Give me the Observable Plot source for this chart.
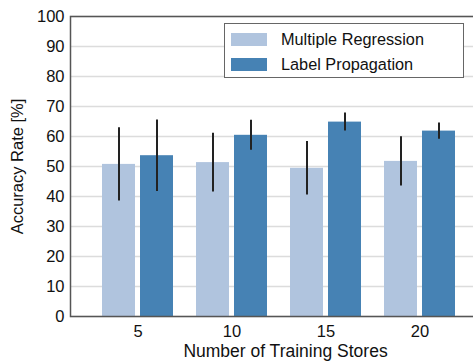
<!DOCTYPE html>
<html><head><meta charset="utf-8">
<script src="https://cdn.jsdelivr.net/npm/d3@7"></script>
<script src="https://cdn.jsdelivr.net/npm/@observablehq/plot@0.6"></script>
<style>
body{margin:0;background:#fff;font-family:"Liberation Sans",Arial,sans-serif;}
#wrap{position:relative;width:473px;height:361px;overflow:hidden;}
.legend{position:absolute;left:224px;top:23px;width:240px;height:55px;border:1px solid #666;background:#fff;box-sizing:border-box;font-size:16.3px;color:#111;}
.row{position:absolute;left:6px;height:13px;}
.sw{position:absolute;left:0;top:0;width:36px;height:13px;}
.lab{position:absolute;left:50px;top:-3px;white-space:nowrap;line-height:18px;}
</style></head>
<body><div id="wrap"></div>
<script>
const stores = [5, 10, 15, 20];
const seriesNames = ["Multiple Regression", "Label Propagation"];
const mrMean = [50.7, 51.3, 49.4, 51.7];
const mrErr = [12.2, 9.8, 8.9, 8.2];
const lpMean = [53.6, 60.4, 64.8, 61.8];
const lpErr = [11.9, 5.0, 3.0, 2.7];
const yTicks = [0, 10, 20, 30, 40, 50, 60, 70, 80, 90, 100];
const colors = ["#b0c4de", "#4682b4"];
const xTitle = "Number of Training Stores";
const yTitle = "Accuracy Rate [%]";

const mr = stores.map((s, i) => ({store: s, mean: mrMean[i], err: mrErr[i]}));
const lp = stores.map((s, i) => ({store: s, mean: lpMean[i], err: lpErr[i]}));

const chart = Plot.plot({
  width: 473, height: 361,
  marginLeft: 70, marginRight: -13, marginTop: 16, marginBottom: 45,
  style: {fontFamily: '"Liberation Sans", Arial, sans-serif', fontSize: "16.5px", color: "#111", background: "#fff"},
  x: {domain: stores, paddingInner: 0.247, paddingOuter: 0.329},
  y: {domain: [0, 100]},
  marks: [
    Plot.gridY(yTicks, {stroke: "#dcdcdc", strokeWidth: 1.5, strokeOpacity: 1}),
    Plot.barY(mr, {x: "store", y: "mean", fill: colors[0], insetRight: 38}),
    Plot.barY(lp, {x: "store", y: "mean", fill: colors[1], insetLeft: 38}),
    Plot.ruleX(mr, {x: "store", y1: d => d.mean - d.err, y2: d => d.mean + d.err, dx: -19, stroke: "#222", strokeWidth: 2}),
    Plot.ruleX(lp, {x: "store", y1: d => d.mean - d.err, y2: d => d.mean + d.err, dx: 19, stroke: "#222", strokeWidth: 2}),
    Plot.frame({stroke: "#555", strokeWidth: 1.5}),
    Plot.axisY({ticks: yTicks, tickSize: 0, tickPadding: 6, fontSize: 16.5, label: null}),
    Plot.axisX({tickSize: 0, tickPadding: 9, fontSize: 16.5, label: null}),
    Plot.text([xTitle], {frameAnchor: "bottom", text: d => d, lineAnchor: "middle", textAnchor: "middle", dy: 35, dx: 7, fontSize: 17.5, fill: "#111"}),
    Plot.text([yTitle], {frameAnchor: "left", text: d => d, rotate: -90, lineAnchor: "middle", textAnchor: "middle", dx: -53, fontSize: 16.5, fill: "#111"})
  ]
});
const wrap = document.getElementById("wrap");
wrap.appendChild(chart);
const lg = document.createElement("div");
lg.className = "legend";
seriesNames.forEach((n, i) => {
  const r = document.createElement("div");
  r.className = "row";
  r.style.top = (9 + i * 25) + "px";
  r.innerHTML = `<div class="sw" style="background:${colors[i]}"></div><div class="lab">${n}</div>`;
  lg.appendChild(r);
});
wrap.appendChild(lg);
</script></body></html>
